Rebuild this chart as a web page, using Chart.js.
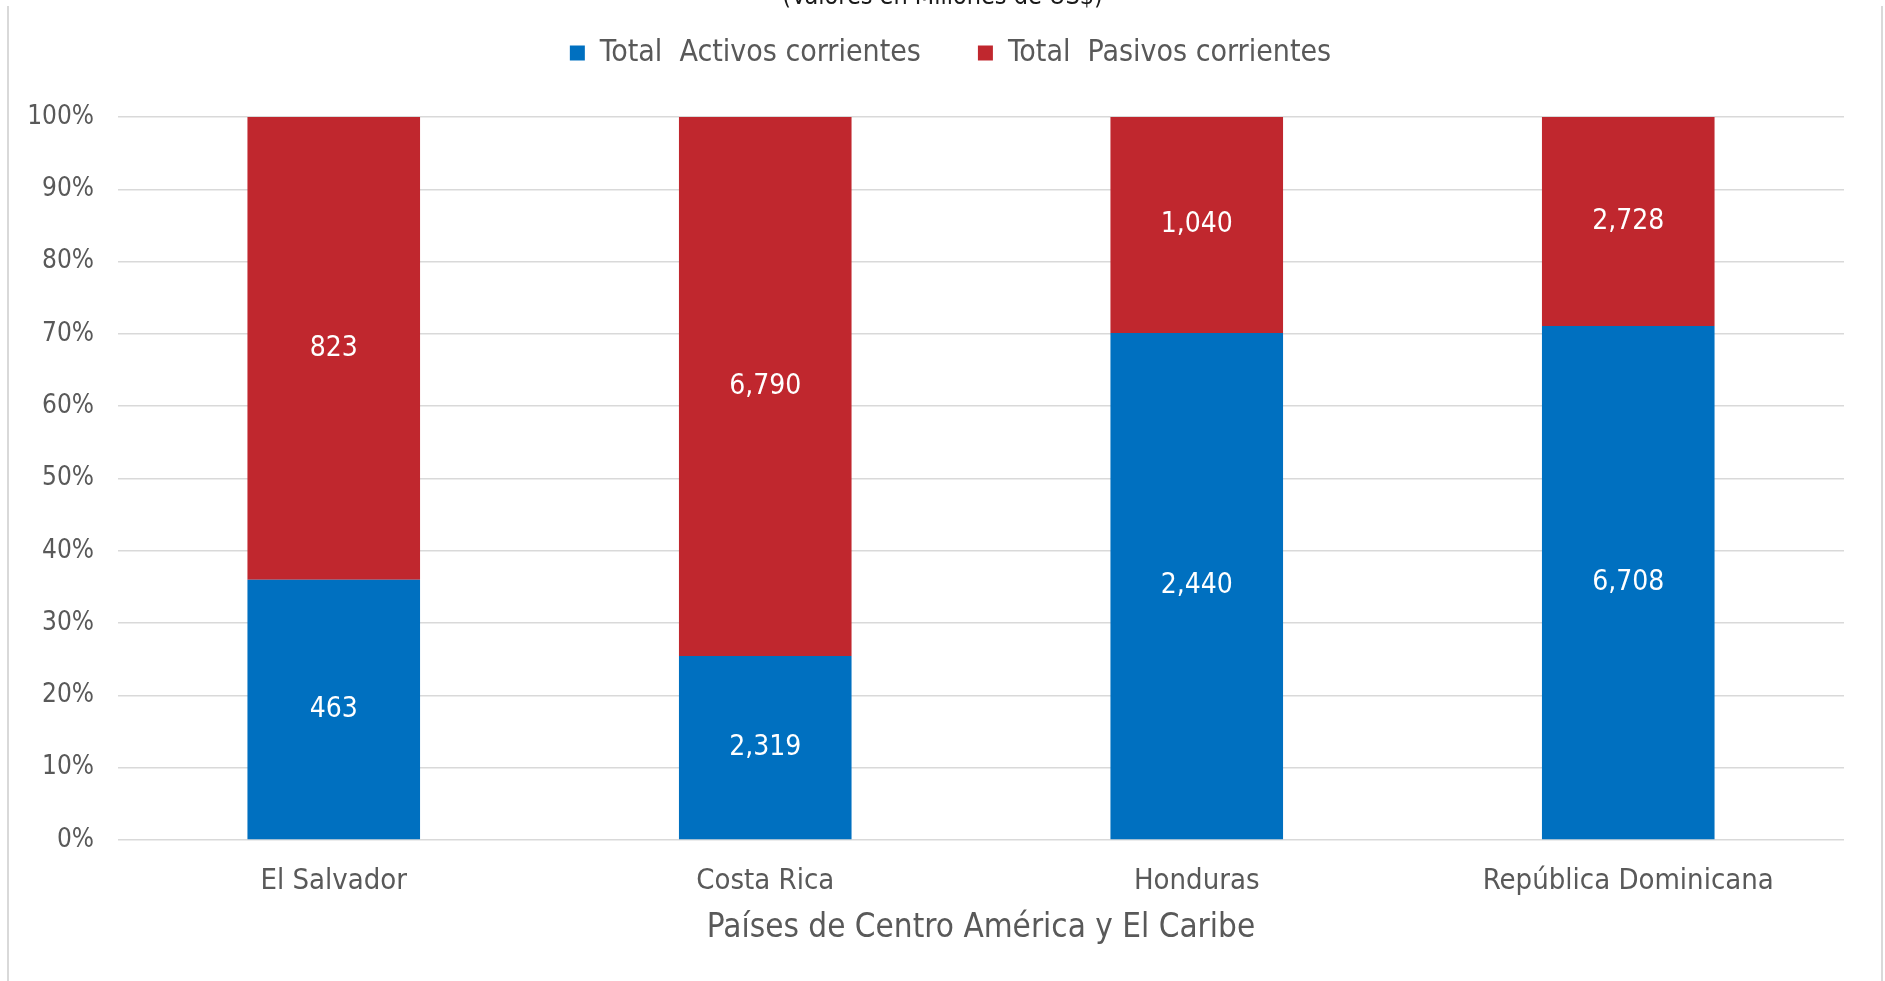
<!DOCTYPE html>
<html>
<head>
<meta charset="utf-8">
<script src="https://cdn.jsdelivr.net/npm/chart.js@4.4.1/dist/chart.umd.min.js"></script>
<style>
    html, body { margin: 0; padding: 0; background: #fff; overflow: hidden; }
    #frame { position: absolute; left: 7px; top: 6px; width: 1872px; height: 1000px;
             border-left: 2px solid #d9d9d9; border-right: 2px solid #d9d9d9; }
    #wrap { position: absolute; left: 0; top: -30px; width: 1885px; height: 1011px; }
</style>
</head>
<body>
<div id="frame"></div>
<div id="wrap"><canvas id="chart"></canvas></div>
<script>
// Chart values (millones de US$)
const countries = ['El Salvador', 'Costa Rica', 'Honduras', 'República Dominicana'];
const activos = [463, 2319, 2440, 6708];
const pasivos = [823, 6790, 1040, 2728];
const seriesNames = ['Total  Activos corrientes', 'Total  Pasivos corrientes'];

const FONT = "'DejaVu Sans Condensed', 'DejaVu Sans', sans-serif";
const GREY = '#595959';

// 100% stacked: share of each country's total
function shareOf(values, other) {
    return values.map((v, i) => v / (v + other[i]) * 100);
}

// Writes the raw value in the middle of each bar segment
const valueLabels = {
    id: 'valueLabels',
    afterDatasetsDraw(chart) {
        const ctx = chart.ctx;
        ctx.save();
        ctx.font = '28px ' + FONT;
        ctx.fillStyle = '#ffffff';
        ctx.textAlign = 'center';
        ctx.textBaseline = 'middle';
        chart.data.datasets.forEach((ds, di) => {
            const meta = chart.getDatasetMeta(di);
            meta.data.forEach((bar, i) => {
                const y = (bar.y + bar.base) / 2;
                ctx.fillText(ds.raw[i].toLocaleString('en-US'), bar.x, y);
            });
        });
        ctx.restore();
    }
};

// Extra room between the legend and the plot, and a small nudge to the right
const legendGap = {
    id: 'legendGap',
    beforeLayout(chart) {
        const legend = chart.legend;
        if (legend && !legend._gapPatched) {
            const fit = legend.fit;
            legend.fit = function () {
                fit.call(this);
                this.height += 39;
            };
            legend._gapPatched = true;
        }
    },
    afterLayout(chart) {
        if (chart.legend) {
            chart.legend.left += 8;
            chart.legend.right += 8;
        }
    }
};

new Chart(document.getElementById('chart'), {
    type: 'bar',
    data: {
        labels: countries,
        datasets: [
            {
                label: seriesNames[0],
                data: shareOf(activos, pasivos),
                raw: activos,
                backgroundColor: '#0070C0',
                barPercentage: 0.4,
                categoryPercentage: 1
            },
            {
                label: seriesNames[1],
                data: shareOf(pasivos, activos),
                raw: pasivos,
                backgroundColor: '#C0272E',
                barPercentage: 0.4,
                categoryPercentage: 1
            }
        ]
    },
    options: {
        responsive: true,
        maintainAspectRatio: false,
        animation: false,
        layout: { padding: { left: 41, right: 41, top: 0, bottom: 0 } },
        plugins: {
            title: {
                display: true,
                text: '(Valores en Millones de US$)',
                color: '#1a1a1a',
                font: { family: FONT, size: 25, weight: 'normal' },
                padding: { top: 12, bottom: -31 }
            },
            legend: {
                position: 'top',
                labels: {
                    boxWidth: 15,
                    boxHeight: 15,
                    padding: 57,
                    color: GREY,
                    font: { family: FONT, size: 30 }
                }
            },
            tooltip: { enabled: false }
        },
        scales: {
            x: {
                stacked: true,
                grid: { display: false, drawTicks: false },
                border: { display: false },
                ticks: {
                    color: GREY,
                    font: { family: FONT, size: 29 },
                    padding: 24,
                    maxRotation: 0,
                    autoSkip: false
                },
                title: {
                    display: true,
                    text: 'Países de Centro América y El Caribe',
                    color: GREY,
                    font: { family: FONT, size: 33 },
                    padding: { top: 0, bottom: 33 }
                },
                afterFit(axis) { axis.height = 141; }
            },
            y: {
                stacked: true,
                min: 0,
                max: 100,
                grid: { color: '#d9d9d9', lineWidth: 1.5, drawTicks: false },
                border: { display: false },
                ticks: {
                    stepSize: 10,
                    color: GREY,
                    font: { family: FONT, size: 26 },
                    padding: 24,
                    callback: (v) => v + '%'
                },
                afterFit(axis) {
                    axis.width = 77;
                    // let "100%" run into the left padding instead of being clipped
                    axis._computeLabelArea = () => undefined;
                }
            }
        }
    },
    plugins: [valueLabels, legendGap]
});
</script>
</body>
</html>
